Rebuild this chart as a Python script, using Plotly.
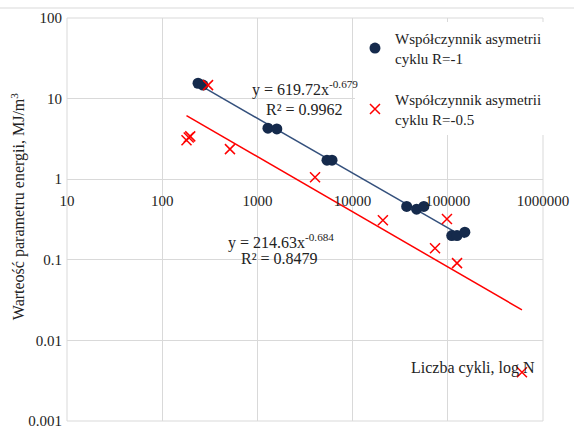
import numpy as np
import plotly.graph_objects as go

# Series R=-1 (dark circles)
n_r1 = [238, 268, 1290, 1600, 5380, 6080, 37000, 47000, 56000, 110000, 125000, 151000]
w_r1 = [15.5, 14.7, 4.3, 4.2, 1.72, 1.72, 0.46, 0.425, 0.46, 0.20, 0.20, 0.22]
# Series R=-0.5 (red crosses)
n_r05 = [180, 190, 197, 303, 515, 4030, 20800, 73400, 98000, 125000, 601000]
w_r05 = [3.05, 3.3, 3.4, 14.7, 2.36, 1.06, 0.31, 0.139, 0.32, 0.091, 0.00403]
# Power trendlines y = a * x^b
fit_r1 = (619.72, -0.679, 0.9962)
fit_r05 = (214.63, -0.684, 0.8479)

x_ticks = [10, 100, 1000, 10000, 100000, 1000000]
x_ticktext = ["10", "100", "1000", "10000", "100000", "1000000"]
y_ticks = [0.001, 0.01, 0.1, 1, 10, 100]
y_ticktext = ["0.001", "0.01", "0.1", "1", "10", "100"]

names = ["Współczynnik asymetrii<br>cyklu R=-1", "Współczynnik asymetrii<br>cyklu R=-0.5"]
x_title = "Liczba cykli, log N"
y_title = "Warteość parametru energii, MJ/m<sup>3</sup>"

FONT = "Liberation Serif"
NAVY = "#152a4c"
NAVY_LINE = "#34507c"
RED = "#ff0000"
GRID = "#d9d9d9"
TXT = "#222222"


def trend(xs, fit):
    xx = np.logspace(np.log10(min(xs)), np.log10(max(xs)), 60)
    return xx, fit[0] * xx ** fit[1]


fig = go.Figure()
tx, ty = trend(n_r1, fit_r1)
fig.add_trace(go.Scatter(x=tx, y=ty, mode="lines", line=dict(color=NAVY_LINE, width=1.5),
                         showlegend=False, hoverinfo="skip"))
tx2, ty2 = trend(n_r05, fit_r05)
fig.add_trace(go.Scatter(x=tx2, y=ty2, mode="lines", line=dict(color=RED, width=1.5),
                         showlegend=False, hoverinfo="skip"))
fig.add_trace(go.Scatter(x=n_r1, y=w_r1, mode="markers", name=names[0], legendgroup="a",
                         marker=dict(symbol="circle", size=11, color=NAVY)))
fig.add_trace(go.Scatter(x=n_r05, y=w_r05, mode="markers", name=names[1], legendgroup="b",
                         marker=dict(symbol="x-thin", size=10, color=RED,
                                     line=dict(color=RED, width=1.5))))

fig.update_layout(
    width=574, height=430,
    margin=dict(l=67, r=31, t=18, b=9, autoexpand=False),
    paper_bgcolor="white", plot_bgcolor="white",
    font=dict(family=FONT, size=15, color=TXT),
    legend=dict(x=0.605, y=0.99, xanchor="left", yanchor="top", bgcolor="white",
                font=dict(family=FONT, size=15, color=TXT),
                traceorder="grouped", tracegroupgap=19, itemwidth=30),
    xaxis=dict(type="log", range=[1, 6], tickvals=x_ticks, ticktext=x_ticktext,
               anchor="free", position=0.6, showgrid=True, gridcolor=GRID, gridwidth=1,
               zeroline=False, showline=False, ticks="", ticklabelstandoff=11,
               tickfont=dict(family=FONT, size=15, color=TXT)),
    yaxis=dict(type="log", range=[-3, 2], tickvals=y_ticks, ticktext=y_ticktext,
               showgrid=True, gridcolor=GRID, gridwidth=1, zeroline=False, showline=False,
               ticks="", ticklabelstandoff=4,
               tickfont=dict(family=FONT, size=15, color=TXT)),
    shapes=[
        dict(type="rect", xref="paper", yref="paper", x0=0, x1=1, y0=0, y1=1,
             line=dict(color=GRID, width=1), layer="below"),
        dict(type="line", xref="paper", yref="paper", x0=-0.15, x1=1.1, y0=1.0248, y1=1.0248,
             line=dict(color=GRID, width=1)),
    ],
)

ann_font = dict(family=FONT, size=16, color=TXT)
common = dict(xref="paper", yref="paper", showarrow=False, xanchor="center", yanchor="middle",
              font=ann_font)
fig.add_annotation(x=0.500, y=0.826, text=f"y = {fit_r1[0]}x<sup>{fit_r1[1]}</sup>", **common)
fig.add_annotation(x=0.498, y=0.774, text=f"R² = {fit_r1[2]}", **common)
fig.add_annotation(x=0.450, y=0.446, text=f"y = {fit_r05[0]}x<sup>{fit_r05[1]}</sup>", **common)
fig.add_annotation(x=0.447, y=0.402, text=f"R² = {fit_r05[2]}", **common)
fig.add_annotation(x=0.987, y=0.1315, xref="paper", yref="paper", showarrow=False,
                   xanchor="right", yanchor="middle", text=x_title, font=ann_font)
fig.add_annotation(x=-0.103, y=0.533, xref="paper", yref="paper", showarrow=False,
                   xanchor="center", yanchor="middle",
                   textangle=-90, text=y_title, font=ann_font)

fig.write_html("out.html", config={"displayModeBar": False},
               post_script="document.body.style.margin='0';document.body.style.overflow='hidden';")
